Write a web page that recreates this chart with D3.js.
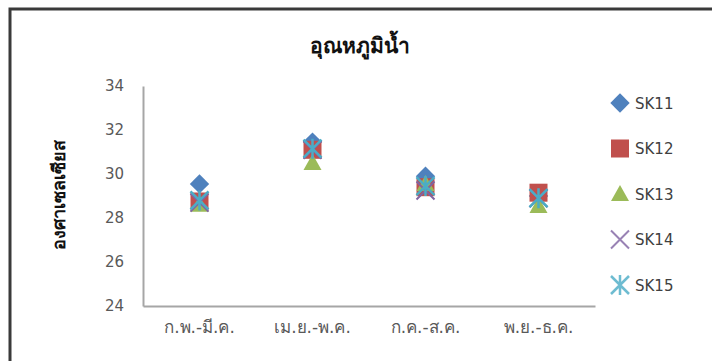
<!DOCTYPE html>
<html lang="th">
<head>
<meta charset="UTF-8">
<title>อุณหภูมิน้ำ</title>
<script src="https://cdn.jsdelivr.net/npm/d3@7/dist/d3.min.js"></script>
<style>
  body { margin: 0; background: #fff; }
  text { font-family: "DejaVu Sans", "Noto Sans", sans-serif; }
</style>
</head>
<body>
<div id="app"></div>
<script>
const categories = ['ก.พ.-มี.ค.', 'เม.ย.-พ.ค.', 'ก.ค.-ส.ค.', 'พ.ย.-ธ.ค.']
const seriesNames = ['SK11', 'SK12', 'SK13', 'SK14', 'SK15']
const sk11 = [29.55, 31.45, 29.9, 29.0]
const sk12 = [28.75, 31.1, 29.4, 29.15]
const sk13 = [28.6, 30.5, 29.55, 28.55]
const sk14 = [28.7, 31.1, 29.25, 28.9]
const sk15 = [28.8, 31.15, 29.45, 28.9]
const yTicks = [24, 26, 28, 30, 32, 34]

const colors = ['#4F81BD', '#C0504D', '#9BBB59', '#8064A2', '#4BACC6']
const values = [sk11, sk12, sk13, sk14, sk15]

const W = 712, H = 361
const svg = d3.select('#app').append('svg')
  .attr('width', W).attr('height', H)

// chart frame
svg.append('path')
  .attr('d', `M10,${H + 5} L10,9 L${W + 5},9`)
  .attr('fill', 'none').attr('stroke', '#3a3a3a').attr('stroke-width', 3)

const x = d3.scaleBand().domain(categories).range([143, 595])
const y = d3.scaleLinear().domain([24, 34]).range([306, 86])

// axes (no ticks, grey lines)
const yAxis = svg.append('g').attr('transform', 'translate(143,0)')
  .call(d3.axisLeft(y).tickValues(yTicks).tickSize(0).tickPadding(19))
yAxis.select('.domain').attr('stroke', '#a6a6a6').attr('stroke-width', 2)
yAxis.selectAll('text').attr('font-size', 15).attr('fill', '#595959')

const xAxis = svg.append('g').attr('transform', 'translate(0,306)')
  .call(d3.axisBottom(x).tickSize(0).tickPadding(15))
xAxis.select('.domain').attr('stroke', '#a6a6a6').attr('stroke-width', 2)
xAxis.selectAll('text').attr('font-size', 17).attr('fill', '#595959')

// title
svg.append('text').attr('x', 360).attr('y', 53)
  .attr('text-anchor', 'middle').attr('font-size', 21).attr('font-weight', 'bold')
  .attr('fill', '#111').text('อุณหภูมิน้ำ')

svg.append('text')
  .attr('transform', 'translate(65,195) rotate(-90)')
  .attr('text-anchor', 'middle').attr('font-size', 18).attr('font-weight', 'bold')
  .attr('fill', '#111').text('องศาเซลเซียส')

// marker drawing
function marker(g, i, cx, cy) {
  const c = colors[i]
  if (i === 0) {
    g.append('path').attr('d', d3.symbol(d3.symbolDiamond2, 240)())
      .attr('transform', `translate(${cx},${cy})`).attr('fill', c)
  } else if (i === 1) {
    g.append('rect').attr('x', cx - 9).attr('y', cy - 9)
      .attr('width', 18).attr('height', 18).attr('fill', c)
  } else if (i === 2) {
    g.append('path').attr('d', `M${cx},${cy - 9} L${cx + 9},${cy + 7} L${cx - 9},${cy + 7}Z`)
      .attr('fill', c)
  } else if (i === 3) {
    g.append('path')
      .attr('d', `M${cx - 9},${cy - 9} L${cx + 9},${cy + 9} M${cx + 9},${cy - 9} L${cx - 9},${cy + 9}`)
      .attr('stroke', c).attr('stroke-width', 2)
  } else {
    g.append('path')
      .attr('d', `M${cx - 9},${cy - 9} L${cx + 9},${cy + 9} M${cx + 9},${cy - 9} L${cx - 9},${cy + 9} M${cx},${cy - 10} L${cx},${cy + 10}`)
      .attr('stroke', c).attr('stroke-width', 2.5)
  }
}

const plot = svg.append('g')
values.forEach((vals, i) => {
  const g = plot.append('g')
  vals.forEach((v, j) => marker(g, i, x(categories[j]) + x.bandwidth() / 2, y(v)))
})

// legend
const legend = svg.append('g')
seriesNames.forEach((name, i) => {
  const ly = 103 + i * 45.5
  const g = legend.append('g')
  if (i >= 3) {
    g.attr('opacity', 0.8)
  }
  marker(g, i, 620, ly)
  legend.append('text').attr('x', 635).attr('y', ly + 5.5)
    .attr('font-size', 15).attr('fill', '#404040').text(name)
})
</script>
</body>
</html>
